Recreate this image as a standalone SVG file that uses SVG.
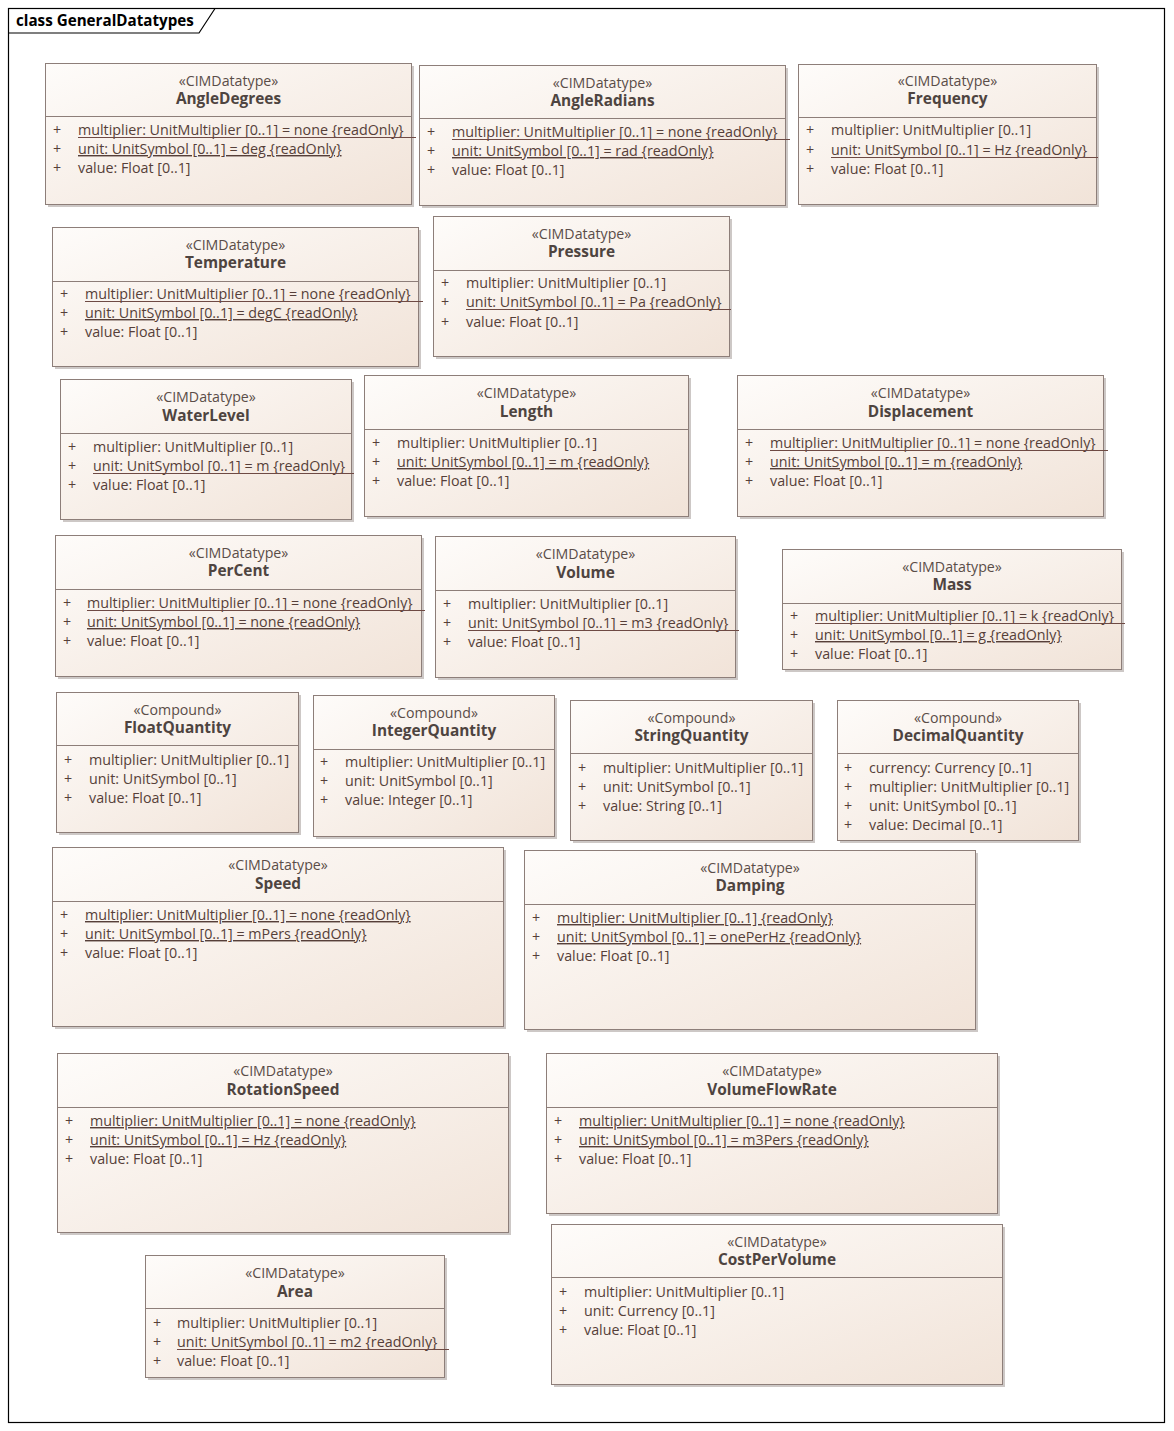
<svg xmlns="http://www.w3.org/2000/svg" width="1174" height="1431" viewBox="0 0 1174 1431">
<style>
.frame{fill:#fff;stroke:#000;stroke-width:1.2}
.title{font-family:"Open Sans","Liberation Sans",sans-serif;font-weight:bold;font-size:15.2px;fill:#000}
.sh{fill:#cdc8c6}
.box{fill:url(#g);stroke:#8d7e79;stroke-width:1}
.div{stroke:#8d7e79;stroke-width:1}
.st{font-family:"Open Sans","Liberation Sans",sans-serif;font-size:14.2px;fill:#5a4d48;text-anchor:middle}
.nm{font-family:"Open Sans","Liberation Sans",sans-serif;font-size:15.4px;font-weight:bold;fill:#4e4440;text-anchor:middle}
.at{font-family:"Open Sans","Liberation Sans",sans-serif;font-size:14.3px;fill:#563f39}
.u{text-decoration:underline}
.ul{stroke:#6e4a44;stroke-width:1}
</style>
<defs>
<linearGradient id="g" x1="0" y1="0" x2="1" y2="1">
<stop offset="0" stop-color="#fefcfa"/>
<stop offset="1" stop-color="#f1e3d8"/>
</linearGradient>
</defs>
<rect class="frame" x="8.5" y="8.5" width="1156" height="1414"/>
<polyline points="8.5,33 199,33 215,8.5" fill="none" stroke="#000" stroke-width="1.2"/>
<text class="title" x="16" y="26">class GeneralDatatypes</text>
<g id="connectors"></g>

<g id="AngleDegrees">
<rect class="sh" x="48" y="66" width="366" height="141"/>
<rect class="box" x="45.5" y="63.5" width="366" height="141"/>
<line class="div" x1="45.5" y1="116.5" x2="411.5" y2="116.5"/>
<text class="st" x="228.5" y="86">«CIMDatatype»</text>
<text class="nm" x="228.5" y="104">AngleDegrees</text>
<text class="at" x="53" y="135">+</text><text class="at" x="78" y="135">multiplier: UnitMultiplier [0..1] = none {readOnly}</text>
<line class="ul" x1="78" y1="137.5" x2="416" y2="137.5"/>
<text class="at" x="53" y="154">+</text><text class="at u" x="78" y="154">unit: UnitSymbol [0..1] = deg {readOnly}</text>
<text class="at" x="53" y="173">+</text><text class="at" x="78" y="173">value: Float [0..1]</text>
</g>

<g id="AngleRadians">
<rect class="sh" x="422" y="68" width="366" height="140"/>
<rect class="box" x="419.5" y="65.5" width="366" height="140"/>
<line class="div" x1="419.5" y1="118.5" x2="785.5" y2="118.5"/>
<text class="st" x="602.5" y="88">«CIMDatatype»</text>
<text class="nm" x="602.5" y="106">AngleRadians</text>
<text class="at" x="427" y="137">+</text><text class="at" x="452" y="137">multiplier: UnitMultiplier [0..1] = none {readOnly}</text>
<line class="ul" x1="452" y1="139.5" x2="790" y2="139.5"/>
<text class="at" x="427" y="156">+</text><text class="at u" x="452" y="156">unit: UnitSymbol [0..1] = rad {readOnly}</text>
<text class="at" x="427" y="175">+</text><text class="at" x="452" y="175">value: Float [0..1]</text>
</g>

<g id="Frequency">
<rect class="sh" x="801" y="67" width="298" height="140"/>
<rect class="box" x="798.5" y="64.5" width="298" height="140"/>
<line class="div" x1="798.5" y1="117.5" x2="1096.5" y2="117.5"/>
<text class="st" x="947.5" y="86">«CIMDatatype»</text>
<text class="nm" x="947.5" y="104">Frequency</text>
<text class="at" x="806" y="135">+</text><text class="at" x="831" y="135">multiplier: UnitMultiplier [0..1]</text>
<text class="at" x="806" y="155">+</text><text class="at" x="831" y="155">unit: UnitSymbol [0..1] = Hz {readOnly}</text>
<line class="ul" x1="831" y1="157.5" x2="1098" y2="157.5"/>
<text class="at" x="806" y="174">+</text><text class="at" x="831" y="174">value: Float [0..1]</text>
</g>

<g id="Temperature">
<rect class="sh" x="55" y="230" width="366" height="139"/>
<rect class="box" x="52.5" y="227.5" width="366" height="139"/>
<line class="div" x1="52.5" y1="281.5" x2="418.5" y2="281.5"/>
<text class="st" x="235.5" y="250">«CIMDatatype»</text>
<text class="nm" x="235.5" y="268">Temperature</text>
<text class="at" x="60" y="299">+</text><text class="at" x="85" y="299">multiplier: UnitMultiplier [0..1] = none {readOnly}</text>
<line class="ul" x1="85" y1="301.5" x2="423" y2="301.5"/>
<text class="at" x="60" y="318">+</text><text class="at u" x="85" y="318">unit: UnitSymbol [0..1] = degC {readOnly}</text>
<text class="at" x="60" y="337">+</text><text class="at" x="85" y="337">value: Float [0..1]</text>
</g>

<g id="Pressure">
<rect class="sh" x="436" y="219" width="296" height="140"/>
<rect class="box" x="433.5" y="216.5" width="296" height="140"/>
<line class="div" x1="433.5" y1="270.5" x2="729.5" y2="270.5"/>
<text class="st" x="581.5" y="239">«CIMDatatype»</text>
<text class="nm" x="581.5" y="257">Pressure</text>
<text class="at" x="441" y="288">+</text><text class="at" x="466" y="288">multiplier: UnitMultiplier [0..1]</text>
<text class="at" x="441" y="307">+</text><text class="at" x="466" y="307">unit: UnitSymbol [0..1] = Pa {readOnly}</text>
<line class="ul" x1="466" y1="309.5" x2="731" y2="309.5"/>
<text class="at" x="441" y="327">+</text><text class="at" x="466" y="327">value: Float [0..1]</text>
</g>

<g id="WaterLevel">
<rect class="sh" x="63" y="382" width="291" height="140"/>
<rect class="box" x="60.5" y="379.5" width="291" height="140"/>
<line class="div" x1="60.5" y1="433.5" x2="351.5" y2="433.5"/>
<text class="st" x="206" y="402">«CIMDatatype»</text>
<text class="nm" x="206" y="421">WaterLevel</text>
<text class="at" x="68" y="452">+</text><text class="at" x="93" y="452">multiplier: UnitMultiplier [0..1]</text>
<text class="at" x="68" y="471">+</text><text class="at" x="93" y="471">unit: UnitSymbol [0..1] = m {readOnly}</text>
<line class="ul" x1="93" y1="473.5" x2="354" y2="473.5"/>
<text class="at" x="68" y="490">+</text><text class="at" x="93" y="490">value: Float [0..1]</text>
</g>

<g id="Length">
<rect class="sh" x="367" y="378" width="324" height="141"/>
<rect class="box" x="364.5" y="375.5" width="324" height="141"/>
<line class="div" x1="364.5" y1="429.5" x2="688.5" y2="429.5"/>
<text class="st" x="526.5" y="398">«CIMDatatype»</text>
<text class="nm" x="526.5" y="417">Length</text>
<text class="at" x="372" y="448">+</text><text class="at" x="397" y="448">multiplier: UnitMultiplier [0..1]</text>
<text class="at" x="372" y="467">+</text><text class="at u" x="397" y="467">unit: UnitSymbol [0..1] = m {readOnly}</text>
<text class="at" x="372" y="486">+</text><text class="at" x="397" y="486">value: Float [0..1]</text>
</g>

<g id="Displacement">
<rect class="sh" x="740" y="378" width="366" height="141"/>
<rect class="box" x="737.5" y="375.5" width="366" height="141"/>
<line class="div" x1="737.5" y1="429.5" x2="1103.5" y2="429.5"/>
<text class="st" x="920.5" y="398">«CIMDatatype»</text>
<text class="nm" x="920.5" y="417">Displacement</text>
<text class="at" x="745" y="448">+</text><text class="at" x="770" y="448">multiplier: UnitMultiplier [0..1] = none {readOnly}</text>
<line class="ul" x1="770" y1="450.5" x2="1108" y2="450.5"/>
<text class="at" x="745" y="467">+</text><text class="at u" x="770" y="467">unit: UnitSymbol [0..1] = m {readOnly}</text>
<text class="at" x="745" y="486">+</text><text class="at" x="770" y="486">value: Float [0..1]</text>
</g>

<g id="PerCent">
<rect class="sh" x="58" y="538" width="366" height="141"/>
<rect class="box" x="55.5" y="535.5" width="366" height="141"/>
<line class="div" x1="55.5" y1="589.5" x2="421.5" y2="589.5"/>
<text class="st" x="238.5" y="558">«CIMDatatype»</text>
<text class="nm" x="238.5" y="576">PerCent</text>
<text class="at" x="63" y="608">+</text><text class="at" x="87" y="608">multiplier: UnitMultiplier [0..1] = none {readOnly}</text>
<line class="ul" x1="87" y1="610.5" x2="425" y2="610.5"/>
<text class="at" x="63" y="627">+</text><text class="at u" x="87" y="627">unit: UnitSymbol [0..1] = none {readOnly}</text>
<text class="at" x="63" y="646">+</text><text class="at" x="87" y="646">value: Float [0..1]</text>
</g>

<g id="Volume">
<rect class="sh" x="438" y="539" width="300" height="141"/>
<rect class="box" x="435.5" y="536.5" width="300" height="141"/>
<line class="div" x1="435.5" y1="590.5" x2="735.5" y2="590.5"/>
<text class="st" x="585.5" y="559">«CIMDatatype»</text>
<text class="nm" x="585.5" y="578">Volume</text>
<text class="at" x="443" y="609">+</text><text class="at" x="468" y="609">multiplier: UnitMultiplier [0..1]</text>
<text class="at" x="443" y="628">+</text><text class="at" x="468" y="628">unit: UnitSymbol [0..1] = m3 {readOnly}</text>
<line class="ul" x1="468" y1="630.5" x2="739" y2="630.5"/>
<text class="at" x="443" y="647">+</text><text class="at" x="468" y="647">value: Float [0..1]</text>
</g>

<g id="Mass">
<rect class="sh" x="785" y="552" width="339" height="120"/>
<rect class="box" x="782.5" y="549.5" width="339" height="120"/>
<line class="div" x1="782.5" y1="603.5" x2="1121.5" y2="603.5"/>
<text class="st" x="952" y="572">«CIMDatatype»</text>
<text class="nm" x="952" y="590">Mass</text>
<text class="at" x="790" y="621">+</text><text class="at" x="815" y="621">multiplier: UnitMultiplier [0..1] = k {readOnly}</text>
<line class="ul" x1="815" y1="623.5" x2="1125" y2="623.5"/>
<text class="at" x="790" y="640">+</text><text class="at u" x="815" y="640">unit: UnitSymbol [0..1] = g {readOnly}</text>
<text class="at" x="790" y="659">+</text><text class="at" x="815" y="659">value: Float [0..1]</text>
</g>

<g id="FloatQuantity">
<rect class="sh" x="59" y="695" width="242" height="140"/>
<rect class="box" x="56.5" y="692.5" width="242" height="140"/>
<line class="div" x1="56.5" y1="745.5" x2="298.5" y2="745.5"/>
<text class="st" x="177.5" y="715">«Compound»</text>
<text class="nm" x="177.5" y="733">FloatQuantity</text>
<text class="at" x="64" y="765">+</text><text class="at" x="89" y="765">multiplier: UnitMultiplier [0..1]</text>
<text class="at" x="64" y="784">+</text><text class="at" x="89" y="784">unit: UnitSymbol [0..1]</text>
<text class="at" x="64" y="803">+</text><text class="at" x="89" y="803">value: Float [0..1]</text>
</g>

<g id="IntegerQuantity">
<rect class="sh" x="316" y="698" width="241" height="141"/>
<rect class="box" x="313.5" y="695.5" width="241" height="141"/>
<line class="div" x1="313.5" y1="749.5" x2="554.5" y2="749.5"/>
<text class="st" x="434" y="718">«Compound»</text>
<text class="nm" x="434" y="736">IntegerQuantity</text>
<text class="at" x="320" y="767">+</text><text class="at" x="345" y="767">multiplier: UnitMultiplier [0..1]</text>
<text class="at" x="320" y="786">+</text><text class="at" x="345" y="786">unit: UnitSymbol [0..1]</text>
<text class="at" x="320" y="805">+</text><text class="at" x="345" y="805">value: Integer [0..1]</text>
</g>

<g id="StringQuantity">
<rect class="sh" x="573" y="703" width="242" height="140"/>
<rect class="box" x="570.5" y="700.5" width="242" height="140"/>
<line class="div" x1="570.5" y1="753.5" x2="812.5" y2="753.5"/>
<text class="st" x="691.5" y="723">«Compound»</text>
<text class="nm" x="691.5" y="741">StringQuantity</text>
<text class="at" x="578" y="773">+</text><text class="at" x="603" y="773">multiplier: UnitMultiplier [0..1]</text>
<text class="at" x="578" y="792">+</text><text class="at" x="603" y="792">unit: UnitSymbol [0..1]</text>
<text class="at" x="578" y="811">+</text><text class="at" x="603" y="811">value: String [0..1]</text>
</g>

<g id="DecimalQuantity">
<rect class="sh" x="840" y="703" width="241" height="140"/>
<rect class="box" x="837.5" y="700.5" width="241" height="140"/>
<line class="div" x1="837.5" y1="753.5" x2="1078.5" y2="753.5"/>
<text class="st" x="958" y="723">«Compound»</text>
<text class="nm" x="958" y="741">DecimalQuantity</text>
<text class="at" x="844" y="773">+</text><text class="at" x="869" y="773">currency: Currency [0..1]</text>
<text class="at" x="844" y="792">+</text><text class="at" x="869" y="792">multiplier: UnitMultiplier [0..1]</text>
<text class="at" x="844" y="811">+</text><text class="at" x="869" y="811">unit: UnitSymbol [0..1]</text>
<text class="at" x="844" y="830">+</text><text class="at" x="869" y="830">value: Decimal [0..1]</text>
</g>

<g id="Speed">
<rect class="sh" x="55" y="850" width="451" height="179"/>
<rect class="box" x="52.5" y="847.5" width="451" height="179"/>
<line class="div" x1="52.5" y1="901.5" x2="503.5" y2="901.5"/>
<text class="st" x="278" y="870">«CIMDatatype»</text>
<text class="nm" x="278" y="889">Speed</text>
<text class="at" x="60" y="920">+</text><text class="at u" x="85" y="920">multiplier: UnitMultiplier [0..1] = none {readOnly}</text>
<text class="at" x="60" y="939">+</text><text class="at u" x="85" y="939">unit: UnitSymbol [0..1] = mPers {readOnly}</text>
<text class="at" x="60" y="958">+</text><text class="at" x="85" y="958">value: Float [0..1]</text>
</g>

<g id="Damping">
<rect class="sh" x="527" y="853" width="451" height="179"/>
<rect class="box" x="524.5" y="850.5" width="451" height="179"/>
<line class="div" x1="524.5" y1="904.5" x2="975.5" y2="904.5"/>
<text class="st" x="750" y="873">«CIMDatatype»</text>
<text class="nm" x="750" y="891">Damping</text>
<text class="at" x="532" y="923">+</text><text class="at u" x="557" y="923">multiplier: UnitMultiplier [0..1] {readOnly}</text>
<text class="at" x="532" y="942">+</text><text class="at u" x="557" y="942">unit: UnitSymbol [0..1] = onePerHz {readOnly}</text>
<text class="at" x="532" y="961">+</text><text class="at" x="557" y="961">value: Float [0..1]</text>
</g>

<g id="RotationSpeed">
<rect class="sh" x="60" y="1056" width="451" height="179"/>
<rect class="box" x="57.5" y="1053.5" width="451" height="179"/>
<line class="div" x1="57.5" y1="1107.5" x2="508.5" y2="1107.5"/>
<text class="st" x="283" y="1076">«CIMDatatype»</text>
<text class="nm" x="283" y="1095">RotationSpeed</text>
<text class="at" x="65" y="1126">+</text><text class="at u" x="90" y="1126">multiplier: UnitMultiplier [0..1] = none {readOnly}</text>
<text class="at" x="65" y="1145">+</text><text class="at u" x="90" y="1145">unit: UnitSymbol [0..1] = Hz {readOnly}</text>
<text class="at" x="65" y="1164">+</text><text class="at" x="90" y="1164">value: Float [0..1]</text>
</g>

<g id="VolumeFlowRate">
<rect class="sh" x="549" y="1056" width="451" height="160"/>
<rect class="box" x="546.5" y="1053.5" width="451" height="160"/>
<line class="div" x1="546.5" y1="1107.5" x2="997.5" y2="1107.5"/>
<text class="st" x="772" y="1076">«CIMDatatype»</text>
<text class="nm" x="772" y="1095">VolumeFlowRate</text>
<text class="at" x="554" y="1126">+</text><text class="at u" x="579" y="1126">multiplier: UnitMultiplier [0..1] = none {readOnly}</text>
<text class="at" x="554" y="1145">+</text><text class="at u" x="579" y="1145">unit: UnitSymbol [0..1] = m3Pers {readOnly}</text>
<text class="at" x="554" y="1164">+</text><text class="at" x="579" y="1164">value: Float [0..1]</text>
</g>

<g id="Area">
<rect class="sh" x="148" y="1258" width="299" height="122"/>
<rect class="box" x="145.5" y="1255.5" width="299" height="122"/>
<line class="div" x1="145.5" y1="1308.5" x2="444.5" y2="1308.5"/>
<text class="st" x="295" y="1278">«CIMDatatype»</text>
<text class="nm" x="295" y="1297">Area</text>
<text class="at" x="153" y="1328">+</text><text class="at" x="177" y="1328">multiplier: UnitMultiplier [0..1]</text>
<text class="at" x="153" y="1347">+</text><text class="at" x="177" y="1347">unit: UnitSymbol [0..1] = m2 {readOnly}</text>
<line class="ul" x1="177" y1="1349.5" x2="449" y2="1349.5"/>
<text class="at" x="153" y="1366">+</text><text class="at" x="177" y="1366">value: Float [0..1]</text>
</g>

<g id="CostPerVolume">
<rect class="sh" x="554" y="1227" width="451" height="160"/>
<rect class="box" x="551.5" y="1224.5" width="451" height="160"/>
<line class="div" x1="551.5" y1="1277.5" x2="1002.5" y2="1277.5"/>
<text class="st" x="777" y="1247">«CIMDatatype»</text>
<text class="nm" x="777" y="1265">CostPerVolume</text>
<text class="at" x="559" y="1297">+</text><text class="at" x="584" y="1297">multiplier: UnitMultiplier [0..1]</text>
<text class="at" x="559" y="1316">+</text><text class="at" x="584" y="1316">unit: Currency [0..1]</text>
<text class="at" x="559" y="1335">+</text><text class="at" x="584" y="1335">value: Float [0..1]</text>
</g>
</svg>
